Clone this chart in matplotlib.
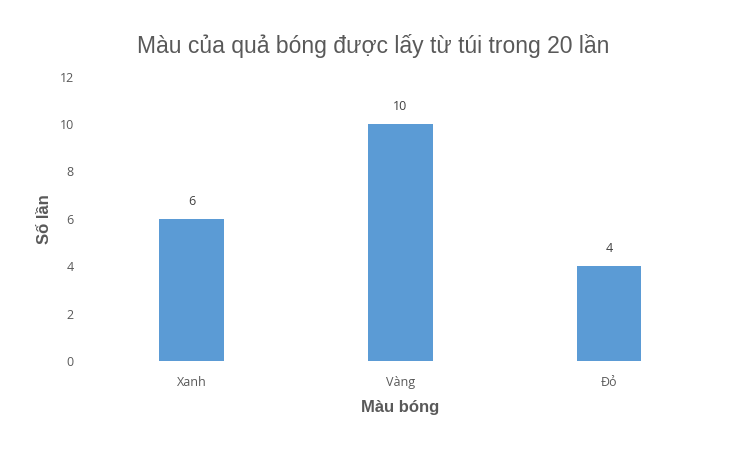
import matplotlib.pyplot as plt

categories = ['Xanh', 'Vàng', 'Đỏ']
counts = [6, 10, 4]
y_ticks = [0, 2, 4, 6, 8, 10, 12]

fig = plt.figure(figsize=(7.47, 4.53), dpi=100)
ax = fig.add_axes([0.1165, 0.203, 0.8385, 0.628])

x = range(len(categories))
bars = ax.bar(x, counts, width=0.31, color='#5B9BD5')

for b, v in zip(bars, counts):
    ax.annotate(str(v), (b.get_x() + b.get_width() / 2, v), xytext=(0, 8),
                textcoords='offset points', ha='center', va='bottom',
                fontsize=9, color='#404040', family='Open Sans')

ax.set_xlim(-0.5, 2.5)
ax.set_ylim(0, 12)
ax.set_yticks(y_ticks)
ax.set_xticks(list(x))
ax.set_xticklabels(categories)
ax.tick_params(length=0, labelsize=9, labelcolor='#595959', pad=11)
ax.tick_params(axis='y', pad=9.5)
for lab in ax.get_xticklabels() + ax.get_yticklabels():
    lab.set_family('Open Sans')

for s in ax.spines.values():
    s.set_visible(False)

ax.set_xlabel('Màu bóng', fontsize=12, fontweight='bold', color='#595959',
              family='Liberation Sans', labelpad=8)
ax.set_ylabel('Số lần', fontsize=12, fontweight='bold', color='#595959',
              family='Liberation Sans')
ax.yaxis.set_label_coords(-0.056, 0.5)
fig.suptitle('Màu của quả bóng được lấy từ túi trong 20 lần', y=0.925,
             fontsize=16.5, color='#595959', family='Liberation Sans')

fig.savefig('out.png', dpi=100)
